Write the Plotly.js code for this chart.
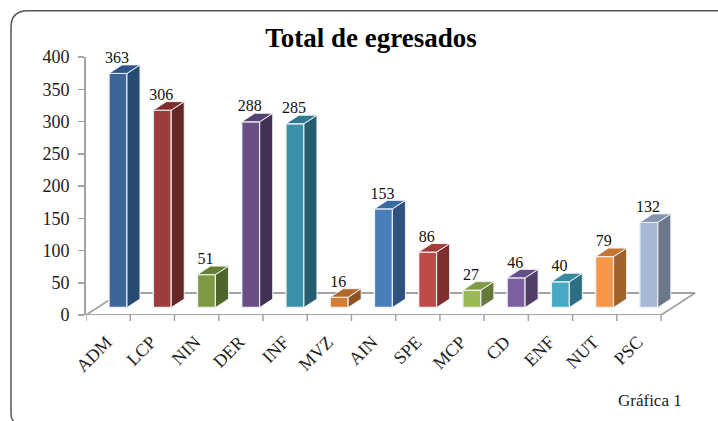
<!DOCTYPE html>
<html><head><meta charset="utf-8">
<script src="https://cdn.plot.ly/plotly-3.0.1.min.js"></script>
<style>html,body{margin:0;padding:0;background:#fff}#c{width:718px;height:421px}</style>
</head><body><div id="c"></div>
<script>
const categories=["ADM","LCP","NIN","DER","INF","MVZ","AIN","SPE","MCP","CD","ENF","NUT","PSC"];
const values=[363,306,51,288,285,16,153,86,27,46,40,79,132];
const frontColors=["#3c6699","#9a3d3c","#7d9a42","#6a4f86","#3c90a8","#d67d34","#4a7ebb","#be4b48","#98b954","#7d60a0","#46aac5","#f79646","#a7b7d6"];
const sideColors=["#264a70","#652825","#4f6429","#443256","#265d6e","#8e5222","#2e5180","#7f302e","#64793a","#503e69","#2c6f82","#a16129","#6c778c"];
const topColors=["#2e5688","#7e2f2d","#677f35","#564070","#307a8e","#b3682b","#3a6aa4","#a33c3a","#7f9b45","#664f88","#38889f","#c8732f","#8493ae"];
const yTicks=[0,50,100,150,200,250,300,350,400];

const pxPerCat=44.23, pxPerUnit=0.645;
const barW=18/pxPerCat, barOff=0.02, base=11.6;
const dx=13/pxPerCat, dy=8.5/pxPerUnit;
const floorDx=34/pxPerCat, floorDy=22/pxPerUnit;
const x0=-0.5, x1=12.5;
const grey="#a3a3a3";

const traces=[];
traces.push({type:"bar",x:categories.map((c,i)=>i),y:values,base:values.map(()=>base),width:barW,offset:barOff,
  marker:{color:frontColors,line:{color:"#eef2f6",width:1.4}},hoverinfo:"x+y",showlegend:false});
values.forEach((v,i)=>{
  const l=i+barOff, r=l+barW, t=base+v;
  traces.push({type:"scatter",mode:"lines",x:[r,r+dx,r+dx,r,r],y:[base,base+dy,t+dy,t,base],fill:"toself",fillcolor:sideColors[i],
    line:{color:"#eef2f6",width:1},hoverinfo:"skip",showlegend:false});
  traces.push({type:"scatter",mode:"lines",x:[l,r,r+dx,l+dx,l],y:[t,t,t+dy,t+dy,t],fill:"toself",fillcolor:topColors[i],
    line:{color:"#eef2f6",width:1},hoverinfo:"skip",showlegend:false});
});
traces.push({type:"scatter",mode:"text",x:values.map((v,i)=>i+barOff+barW/2-0.02),y:values.map(v=>base+v+dy+9),text:values.map(String),
  textposition:"middle center",textfont:{family:"Liberation Serif",size:16,color:"#111"},hoverinfo:"skip",showlegend:false,cliponaxis:false});

const px=x=>(x-86)/614, py=y=>(314.6-y)/257.9;
const line=(a,b,c,d)=>({type:"line",xref:"x",yref:"y",x0:a,y0:b,x1:c,y1:d,layer:"below",line:{color:grey,width:1.8}});
const layout={
  width:718,height:421,paper_bgcolor:"#fff",plot_bgcolor:"rgba(0,0,0,0)",showlegend:false,
  margin:{l:86,r:18,t:56.7,b:106.4,pad:0},
  title:{text:"<b>Total de egresados</b>",x:371/718,xanchor:"center",y:1-38/421,yanchor:"middle",font:{family:"Liberation Serif",size:27,color:"#000"}},
  xaxis:{type:"linear",range:[x0,13.38],tickmode:"array",tickvals:categories.map((c,i)=>i-0.03),ticktext:categories,
    showgrid:false,zeroline:false,showline:false,ticks:"",tickangle:-45,ticklabelstandoff:12,tickfont:{family:"Liberation Serif",size:18,color:"#222"}},
  yaxis:{range:[0,400],tickmode:"array",tickvals:yTicks,showgrid:false,zeroline:false,showline:true,linecolor:grey,linewidth:1.8,
    ticks:"outside",ticklen:6,tickcolor:grey,tickwidth:1.5,ticklabelstandoff:5,tickfont:{family:"Liberation Serif",size:18,color:"#222"}},
  shapes:[
    line(x0,0,x1,0),
    line(x0,0,x0+floorDx,floorDy),
    line(x0+floorDx,floorDy,x1+floorDx,floorDy),
    line(x1+floorDx,floorDy,x1,0),
    ...categories.map((c,i)=>i+0.5).concat([x0]).map(t=>({type:"line",xref:"x",yref:"paper",x0:t,x1:t,y0:0,y1:-6/258,layer:"below",line:{color:grey,width:1.5}})),
    {type:"path",xref:"paper",yref:"paper",layer:"below",
     path:`M ${px(718)} ${py(10.5)} L ${px(28)} ${py(10.5)} Q ${px(11)} ${py(10.5)} ${px(11)} ${py(27)} L ${px(11)} ${py(413)} Q ${px(11)} ${py(419)} ${px(14)} ${py(421)}`,
     line:{color:"#555",width:1.5}}
  ],
  annotations:[{text:"Gráfica 1",xref:"paper",yref:"paper",x:px(650),y:py(400),xanchor:"center",yanchor:"middle",showarrow:false,font:{family:"Liberation Serif",size:17,color:"#222"}}]
};
Plotly.newPlot("c",traces,layout,{displayModeBar:false,staticPlot:true});
</script></body></html>
